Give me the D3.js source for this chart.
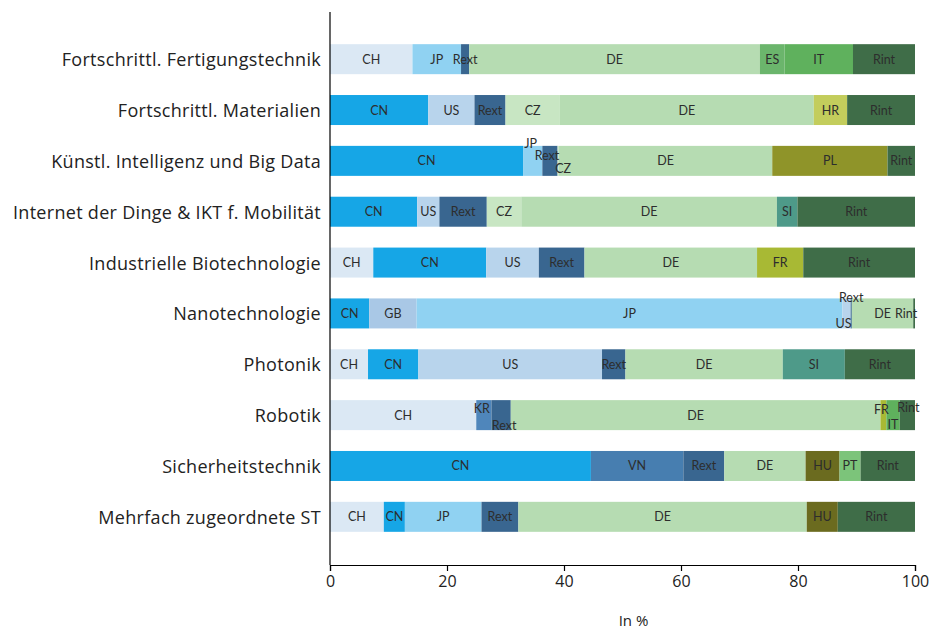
<!DOCTYPE html>
<html>
<head>
<meta charset="utf-8">
<script src="https://cdn.jsdelivr.net/npm/d3@7"></script>
<style>
  html, body { margin: 0; padding: 0; background: #fff; }
  svg { display: block; }
</style>
</head>
<body>
<svg id="chart" width="936" height="631"></svg>
<script>
// ---- data ----
const categories = [
  "Fortschrittl. Fertigungstechnik",
  "Fortschrittl. Materialien",
  "Künstl. Intelligenz und Big Data",
  "Internet der Dinge & IKT f. Mobilität",
  "Industrielle Biotechnologie",
  "Nanotechnologie",
  "Photonik",
  "Robotik",
  "Sicherheitstechnik",
  "Mehrfach zugeordnete ST"
];
const seriesKeys = ["CH","CN","GB","JP","KR","US","VN","Rext","CZ","DE","ES","FR","HR","HU","IT","PL","PT","SI","Rint"];
const CH   = [14.1, 0,    0,    0,    7.4,  0,    6.5,  25.0, 0,    9.2];
const CN   = [0,    16.8, 33.0, 14.9, 19.3, 6.7,  8.6,  0,    44.6, 3.6];
const GB   = [0,    0,    0,    0,    0,    8.1,  0,    0,    0,    0];
const JP   = [8.3,  0,    3.3,  0,    0,    72.8, 0,    0,    0,    13.1];
const KR   = [0,    0,    0,    0,    0,    0,    0,    2.6,  0,    0];
const US   = [0,    7.9,  0,    3.8,  9.0,  1.4,  31.4, 0,    0,    0];
const VN   = [0,    0,    0,    0,    0,    0,    0,    0,    15.8, 0];
const Rext = [1.4,  5.3,  2.6,  8.1,  7.8,  0.2,  4.0,  3.3,  7.0,  6.3];
const CZ   = [0,    9.3,  0.2,  5.9,  0,    0,    0,    0,    0,    0];
const DE   = [49.7, 43.4, 36.5, 43.7, 29.5, 10.5, 26.9, 63.2, 13.9, 49.3];
const ES   = [4.2,  0,    0,    0,    0,    0,    0,    0,    0,    0];
const FR   = [0,    0,    0,    0,    7.9,  0,    0,    1.0,  0,    0];
const HR   = [0,    5.7,  0,    0,    0,    0,    0,    0,    0,    0];
const HU   = [0,    0,    0,    0,    0,    0,    0,    0,    5.8,  5.3];
const IT   = [11.7, 0,    0,    0,    0,    0,    0,    2.3,  0,    0];
const PL   = [0,    0,    19.7, 0,    0,    0,    0,    0,    0,    0];
const PT   = [0,    0,    0,    0,    0,    0,    0,    0,    3.6,  0];
const SI   = [0,    0,    0,    3.5,  0,    0,    10.6, 0,    0,    0];
const Rint = [10.6, 11.6, 4.7,  20.1, 19.1, 0.3,  12.0, 2.6,  9.3,  13.2];
const xTicks = [0, 20, 40, 60, 80, 100];
const xTitle = "In %";

const seriesValues = {CH, CN, GB, JP, KR, US, VN, Rext, CZ, DE, ES, FR, HR, HU, IT, PL, PT, SI, Rint};

// ---- styles ----
const colors = {
  CH: "#dbe8f4", CN: "#16a6e6", GB: "#a9c8e6", JP: "#90d2f2", KR: "#4f86bb",
  US: "#b8d4ec", VN: "#477eb0", Rext: "#396690", CZ: "#c8e6c3", DE: "#b6dcb2",
  ES: "#6bb56c", FR: "#a8b934", HR: "#c3cd5c", HU: "#6b6b1f", IT: "#5fb15d",
  PL: "#8f9429", PT: "#7cc47a", SI: "#4e9a89", Rint: "#3f6d48"
};
// label nudges for crowded segments: [rowIndex, key] -> [dx, dy]
const nudges = {
  "2|JP": [-2, -17], "2|Rext": [-3, -5], "2|CZ": [5, 8],
  "5|Rext": [0, -16], "5|US": [-3, 10], "5|Rint": [-8, 0],
  "7|KR": [-2, -7], "7|Rext": [3, 10],
  "7|FR": [-2, -6], "7|IT": [0, 9], "7|Rint": [1, -8]
};

// ---- layout ----
const margin = {top: 12, left: 330, right: 21, bottom: 66};
const svg = d3.select("#chart");

const x = d3.scaleLinear().domain([0, 100]).range([margin.left, 915]);
const y = d3.scaleBand().domain(categories).range([34, 542]).paddingInner(0.41).paddingOuter(0.2);

const table = categories.map((c, i) => {
  const row = {category: c, idx: i};
  seriesKeys.forEach(k => row[k] = seriesValues[k][i]);
  return row;
});
const stacked = d3.stack().keys(seriesKeys)(table);

const bh = 30;
const g = svg.append("g");
stacked.forEach(s => {
  g.selectAll(null).data(s.filter(d => d[1] - d[0] > 0)).enter()
    .append("rect")
    .attr("x", d => x(d[0]))
    .attr("width", d => x(d[1]) - x(d[0]))
    .attr("y", d => y(d.data.category) + y.bandwidth() / 2 - bh / 2)
    .attr("height", bh)
    .attr("fill", colors[s.key]);
});
stacked.forEach(s => {
  g.selectAll(null).data(s.filter(d => d[1] - d[0] > 0)).enter()
    .append("text")
    .attr("x", d => {
      const n = nudges[d.data.idx + "|" + s.key];
      return (x(d[0]) + x(d[1])) / 2 + (n ? n[0] : 0);
    })
    .attr("y", d => {
      const n = nudges[d.data.idx + "|" + s.key];
      return y(d.data.category) + y.bandwidth() / 2 + (n ? n[1] : 0);
    })
    .attr("text-anchor", "middle")
    .attr("dominant-baseline", "central")
    .attr("font-family", "Lato, 'Open Sans', sans-serif")
    .attr("font-size", 12.5)
    .attr("fill", "#2d2d2d")
    .text(s.key);
});

// y axis line + category labels
svg.append("line").attr("x1", margin.left).attr("x2", margin.left)
  .attr("y1", 12).attr("y2", 565).attr("stroke", "#000").attr("stroke-width", 1.2);
svg.append("g").selectAll("text").data(categories).enter().append("text")
  .attr("x", 321)
  .attr("y", d => y(d) + y.bandwidth() / 2)
  .attr("text-anchor", "end")
  .attr("dominant-baseline", "central")
  .attr("font-family", "'Open Sans', sans-serif")
  .attr("font-size", 18)
  .attr("letter-spacing", 0.3)
  .attr("fill", "#222")
  .text(d => d);

// x axis
const xAxis = d3.axisBottom(x).tickValues(xTicks).tickSize(6).tickPadding(5);
const ax = svg.append("g").attr("transform", "translate(0,565)").call(xAxis);
ax.select(".domain").attr("stroke", "#000").attr("stroke-width", 1.2);
ax.selectAll(".tick line").attr("stroke", "#000").attr("stroke-width", 1.2);
ax.selectAll(".tick text").attr("font-family", "'Open Sans', sans-serif")
  .attr("font-size", 16).attr("fill", "#222");

svg.append("text").attr("x", (x(0) + x(100)) / 2 + 11).attr("y", 620)
  .attr("text-anchor", "middle").attr("dominant-baseline", "central")
  .attr("font-family", "'Open Sans', sans-serif").attr("font-size", 15)
  .attr("fill", "#222").text(xTitle);
</script>
</body>
</html>
